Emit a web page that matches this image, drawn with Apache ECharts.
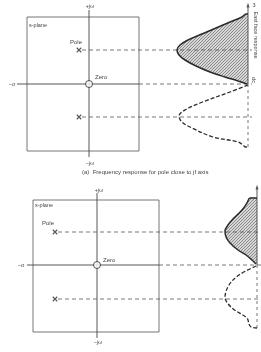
<!DOCTYPE html>
<html>
<head>
<meta charset="utf-8">
<script src="https://cdn.jsdelivr.net/npm/echarts@6/dist/echarts.min.js"></script>
<style>
    html, body { margin: 0; padding: 0; background: #fff; }
    #chart { width: 261px; height: 352px; }
</style>
</head>
<body>
<div id="chart"></div>
<script>
    // ---- (a) pole close to the jw axis ----
    var aBox = [[-6.2, 6.7], [5.0, 6.7], [5.0, -6.7], [-6.2, -6.7], [-6.2, 6.7]];
    var aSigma = [-7.2, 5.0];
    var aJw = [7.4, -7.3];
    var aPoles = [[-1.0, 3.4], [-1.0, -3.3]];
    var aRespX = 15.9;
    var aRespSpan = [7.9, -6.3];
    var aLineEnd = 16.3;
    var aPeakW = [7.0, 7.0, 6.7, 6.2, 5.6, 5.0, 4.4, 3.9, 3.4, 2.9, 2.4, 1.8, 1.2, 0.7, 0.3, 0.0];
    var aPeakM = [0.0, 0.2, 0.6, 1.8, 3.2, 4.6, 6.0, 6.8, 7.1, 6.9, 6.3, 5.2, 3.8, 2.3, 1.0, 0.1];
    var aDipW = [-0.1, -0.8, -1.9, -2.6, -3.2, -3.8, -4.4, -5.3, -5.8, -6.2, -6.3, -6.3];
    var aDipM = [0.0, 1.8, 4.8, 6.3, 6.9, 6.6, 5.6, 3.5, 1.0, 0.4, 0.3, 0.0];
    var aTexts = [
        ['+jω', 0.1, 7.8, 'center', 0, 5.5],
        ['−jω', 0.1, -7.9, 'center', 0, 5.5],
        ['−σ', -7.7, 0, 'center', 0, 5.5],
        ['s-plane', -6.0, 5.9, 'left', 0, 5.5],
        ['Pole', -1.3, 4.2, 'center', 0, 6],
        ['Zero', 0.6, 0.7, 'left', 0, 6],
        ['3', 16.5, 7.9, 'center', 0, 5.5],
        ['East face response', 16.7, 4.9, 'center', -90, 5.5],
        ['dc', 16.5, 0.4, 'center', -90, 5.5],
        ['(a)  Frequency response for pole close to jf axis', -0.7, -8.8, 'left', 0, 6]
    ];

    // ---- (b) pole further from the jw axis ----
    var bBox = [[-6.4, 6.5], [6.2, 6.5], [6.2, -6.7], [-6.4, -6.7], [-6.4, 6.5]];
    var bSigma = [-7.0, 6.2];
    var bJw = [7.2, -7.3];
    var bPoles = [[-4.2, 3.3], [-4.2, -3.4]];
    var bRespX = 16.0;
    var bRespSpan = [7.8, -6.3];
    var bLineEnd = 16.4;
    var bPeakW = [6.7, 6.7, 6.2, 5.5, 4.7, 4.0, 3.4, 2.8, 2.2, 1.5, 1.0, 0.5, 0.1];
    var bPeakM = [0.0, 0.7, 1.0, 1.5, 2.3, 2.9, 3.2, 3.1, 2.7, 1.9, 1.1, 0.5, 0.1];
    var bDipW = [-0.1, -1.0, -2.0, -3.2, -4.3, -5.3, -5.9, -6.2, -6.3];
    var bDipM = [0.1, 1.8, 2.8, 3.2, 2.5, 1.0, 0.8, 0.6, 0.0];
    var bTexts = [
        ['+jω', 0.2, 7.5, 'center', 0, 5.5],
        ['−jω', 0.1, -7.7, 'center', 0, 5.5],
        ['−σ', -7.6, 0, 'center', 0, 5.5],
        ['s-plane', -6.2, 6.0, 'left', 0, 5.5],
        ['Pole', -4.9, 4.2, 'center', 0, 6],
        ['Zero', 0.6, 0.5, 'left', 0, 6]
    ];

    var ink = '#2a2a2a';
    var grey = '#555';
    var font = 'Liberation Sans';

    var hatch = document.createElement('canvas');
    hatch.width = hatch.height = 3;
    var hc = hatch.getContext('2d');
    hc.fillStyle = '#d6d6d6';
    hc.fillRect(0, 0, 3, 3);
    hc.fillStyle = '#8c8c8c';
    hc.fillRect(0, 2, 1, 1);
    hc.fillRect(1, 1, 1, 1);
    hc.fillRect(2, 0, 1, 1);

    var panels = [
        {box: aBox, sigma: aSigma, jw: aJw, poles: aPoles, respX: aRespX, respSpan: aRespSpan,
         lineEnd: aLineEnd, peakW: aPeakW, peakM: aPeakM, dipW: aDipW, dipM: aDipM, texts: aTexts},
        {box: bBox, sigma: bSigma, jw: bJw, poles: bPoles, respX: bRespX, respSpan: bRespSpan,
         lineEnd: bLineEnd, peakW: bPeakW, peakM: bPeakM, dipW: bDipW, dipM: bDipM, texts: bTexts}
    ];

    function curve(ws, ms, x0) {
        return ws.map(function (w, i) { return [x0 - ms[i], w]; });
    }

    function panelSeries(p, gi) {
        var list = [];
        function line(data, color, width, type, smooth) {
            list.push({
                type: 'line', xAxisIndex: gi, yAxisIndex: gi, data: data,
                symbol: 'none', silent: true, animation: false, smooth: smooth || false,
                lineStyle: {color: color, width: width, type: type || 'solid'}, z: 3
            });
        }
        var peak = curve(p.peakW, p.peakM, p.respX);
        var dip = curve(p.dipW, p.dipM, p.respX);

        // hatched area between the upper lobe and the response axis
        list.push({
            type: 'custom', xAxisIndex: gi, yAxisIndex: gi, data: [0], silent: true, animation: false, z: 1,
            renderItem: function (params, api) {
                var pts = peak.concat([[p.respX, p.peakW[p.peakW.length - 1]], [p.respX, p.peakW[0]]]);
                return {
                    type: 'polygon',
                    shape: {points: pts.map(function (c) { return api.coord(c); })},
                    style: {fill: {image: hatch, repeat: 'repeat'}, stroke: null}
                };
            }
        });

        line(p.box, '#666', 0.9);
        line([[p.sigma[0], 0], [p.sigma[1], 0]], '#444', 0.9);
        line([[p.sigma[1], 0], [p.lineEnd, 0]], grey, 0.8, [4, 3]);
        line([[0, p.jw[0]], [0, p.jw[1]]], '#444', 0.9);
        p.poles.forEach(function (pl) {
            line([[pl[0] + 0.3, pl[1]], [p.lineEnd, pl[1]]], grey, 0.8, [4, 3]);
        });
        line([[p.respX, p.respSpan[0]], [p.respX, 0]], '#444', 0.9);
        line([[p.respX, 0], [p.respX, p.respSpan[1]]], grey, 0.8, [3, 3]);
        line(peak, ink, 1.5, 'solid', 0.35);
        line(dip, ink, 1.3, [4, 2], 0.35);

        list.push({
            type: 'scatter', xAxisIndex: gi, yAxisIndex: gi, silent: true, animation: false, z: 4,
            data: [[p.respX, p.respSpan[0]]], symbol: 'triangle', symbolSize: [3, 5],
            itemStyle: {color: '#444'}
        });
        list.push({
            type: 'scatter', xAxisIndex: gi, yAxisIndex: gi, silent: true, animation: false, z: 4,
            data: p.poles, symbol: 'path://M0,0L10,10M10,0L0,10', symbolSize: 4.5,
            itemStyle: {color: 'transparent', borderColor: ink, borderWidth: 1.1}
        });
        list.push({
            type: 'scatter', xAxisIndex: gi, yAxisIndex: gi, silent: true, animation: false, z: 4,
            data: [[0, 0]], symbol: 'circle', symbolSize: 7,
            itemStyle: {color: '#fff', borderColor: ink, borderWidth: 1}
        });
        return list;
    }

    function hiddenAxis(gi, min, max) {
        return {type: 'value', gridIndex: gi, min: min, max: max, show: false, splitLine: {show: false}};
    }

    var chart = echarts.init(document.getElementById('chart'));
    chart.setOption({
        backgroundColor: '#fff',
        animation: false,
        grid: [
            {left: 0, top: 0, width: 261, height: 175},
            {left: 0, top: 175, width: 261, height: 177}
        ],
        xAxis: [hiddenAxis(0, -8.9, 17.2), hiddenAxis(1, -9.7, 16.4)],
        yAxis: [hiddenAxis(0, -9.1, 8.4), hiddenAxis(1, -8.7, 9.0)],
        series: panelSeries(panels[0], 0).concat(panelSeries(panels[1], 1))
    });

    var texts = [];
    panels.forEach(function (p, gi) {
        p.texts.forEach(function (t) {
            var px = chart.convertToPixel({gridIndex: gi}, [t[1], t[2]]);
            texts.push({
                type: 'text', x: px[0], y: px[1], rotation: t[4] * Math.PI / 180, silent: true,
                style: {text: t[0], fill: '#444', font: t[5] + 'px "' + font + '"',
                        align: t[3], verticalAlign: 'middle'}
            });
        });
    });
    chart.setOption({graphic: texts});
</script>
</body>
</html>
